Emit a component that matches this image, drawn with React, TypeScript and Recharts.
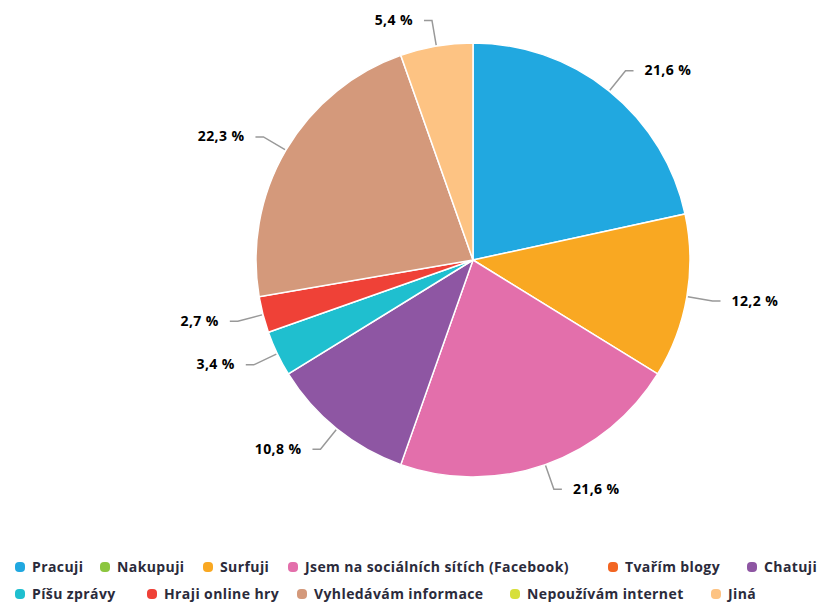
import React from 'react';
import { PieChart, Pie, Cell, Legend } from 'recharts';

const categories = [
  'Pracuji',
  'Nakupuji',
  'Surfuji',
  'Jsem na sociálních sítích (Facebook)',
  'Tvařím blogy',
  'Chatuji',
  'Píšu zprávy',
  'Hraji online hry',
  'Vyhledávám informace',
  'Nepoužívám internet',
  'Jiná',
];

const shares = [21.6, 0, 12.2, 21.6, 0, 10.8, 3.4, 2.7, 22.3, 0, 5.4];

const colors = [
  '#21a8e0',
  '#8cc63f',
  '#f9a822',
  '#e36fab',
  '#f26522',
  '#8e56a3',
  '#1fbfcf',
  '#ef4137',
  '#d4997b',
  '#d7df3b',
  '#fdc383',
];

// legend layout (rows and x offsets), separate from data
const legendRows = [0, 0, 0, 0, 0, 0, 1, 1, 1, 1, 1];
const legendX = [15, 100, 203, 288, 608, 747, 15, 147, 297, 510, 711];

const data = categories.map((name, i) => ({ name, value: shares[i] }));

const RAD = Math.PI / 180;

const fmt = (v: number) => v.toFixed(1).replace('.', ',') + ' %';

const renderLabel = (props: any) => {
  const { cx, cy, midAngle, outerRadius, value } = props;
  if (!value) return null;
  const cos = Math.cos(-midAngle * RAD);
  const sin = Math.sin(-midAngle * RAD);
  const sx = cx + (outerRadius + 1) * cos;
  const sy = cy + (outerRadius + 1) * sin;
  const bx = cx + (outerRadius + 26) * cos;
  const by = cy + (outerRadius + 26) * sin;
  const right = cos >= 0;
  const ex = bx + (right ? 8 : -8);
  const tx = ex + (right ? 11 : -11);
  return (
    <g>
      <path
        d={`M${sx},${sy} L${bx},${by} L${ex},${by}`}
        stroke="#999"
        strokeWidth={1.5}
        fill="none"
      />
      <text
        x={tx}
        y={by - 1}
        textAnchor={right ? 'start' : 'end'}
        dominantBaseline="central"
        fontFamily="'Open Sans', sans-serif"
        fontWeight={700}
        fontSize={14}
        letterSpacing={0.4}
        fill="#000"
      >
        {fmt(value)}
      </text>
    </g>
  );
};

const renderLegend = () => (
  <div style={{ position: 'relative', width: 833, height: 55 }}>
    {categories.map((name, i) => (
      <div
        key={name}
        style={{
          position: 'absolute',
          left: legendX[i],
          top: 7 + legendRows[i] * 27,
          display: 'flex',
          alignItems: 'center',
          whiteSpace: 'nowrap',
          fontFamily: "'Open Sans', sans-serif",
          fontWeight: 700,
          fontSize: 14,
          letterSpacing: 0.4,
          color: '#2b2b3b',
        }}
      >
        <span
          style={{
            display: 'inline-block',
            width: 10,
            height: 10,
            borderRadius: 4,
            background: colors[i],
            marginRight: 7,
          }}
        />
        {name}
      </div>
    ))}
  </div>
);

export default function App() {
  return (
    <div style={{ position: 'absolute', left: 0, top: 0, width: 833, height: 605, background: '#fff' }}>
      <PieChart width={833} height={605} margin={{ top: 0, right: 0, bottom: 0, left: 0 }}>
        <Pie
          data={data}
          dataKey="value"
          nameKey="name"
          cx={473}
          cy={260}
          outerRadius={217}
          startAngle={90}
          endAngle={-270}
          stroke="#ffffff"
          strokeWidth={1.5}
          label={renderLabel}
          labelLine={false}
          isAnimationActive={false}
        >
          {data.map((d, i) => (
            <Cell key={d.name} fill={colors[i]} />
          ))}
        </Pie>
        <Legend
          content={renderLegend}
          wrapperStyle={{ position: 'absolute', left: 0, top: 550, width: 833, height: 55, bottom: 'auto' }}
        />
      </PieChart>
    </div>
  );
}
